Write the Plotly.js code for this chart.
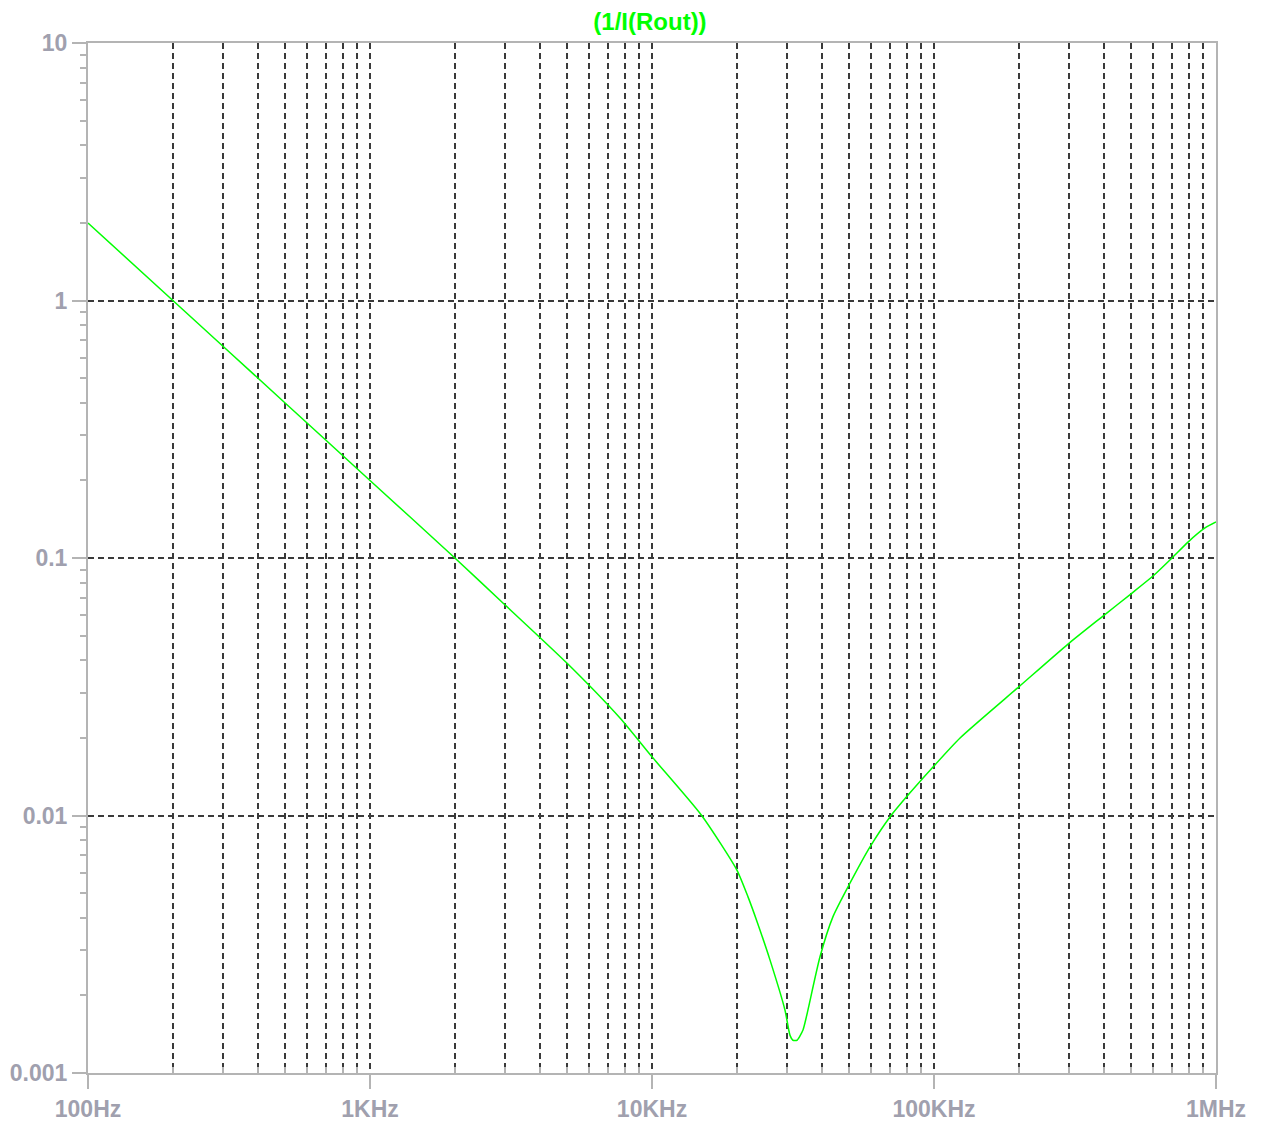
<!DOCTYPE html>
<html>
<head>
<meta charset="utf-8">
<script src="https://cdn.plot.ly/plotly-3.0.1.min.js"></script>
<style>
  html, body { margin: 0; padding: 0; background: #ffffff; }
  #chart { width: 1263px; height: 1123px; }
</style>
</head>
<body>
<div id="chart"></div>
<script>
// Frequency (Hz) and magnitude of 1/I(Rout)
const freq = [100, 200, 500, 1000, 2000, 3000, 5000, 7700, 10000, 15000, 20000, 21900, 23600, 26200, 29600, 30860, 31600, 32680, 34310, 35400, 39400, 43800, 50400, 59300, 69800, 80900, 99200, 123700, 200000, 298700, 397500, 503700, 597800, 698200, 795600, 914200, 1000000];
const mag  = [2.0, 1.0, 0.4, 0.2, 0.1, 0.066, 0.039, 0.0239, 0.0169, 0.0100, 0.00614, 0.00483, 0.00386, 0.00275, 0.00176, 0.00140, 0.00134, 0.00134, 0.00147, 0.00168, 0.00282, 0.00404, 0.00547, 0.00755, 0.00987, 0.0120, 0.01543, 0.0200, 0.0316, 0.0463, 0.0595, 0.0731, 0.0851, 0.100, 0.1153, 0.1308, 0.138];

const xTickVals = [100, 1000, 10000, 100000, 1000000];
const xTickText = ["100Hz", "1KHz", "10KHz", "100KHz", "1MHz"];
const yTickVals = [0.001, 0.01, 0.1, 1, 10];
const yTickText = ["0.001", "0.01", "0.1", "1", "10"];
const minorDigits = [2, 3, 4, 5, 6, 7, 8, 9];

function minorVals(decades) {
  const out = [];
  decades.slice(0, -1).forEach(d => minorDigits.forEach(m => out.push(d * m)));
  return out;
}

const axisColor = "#b4b4b4";
const labelColor = "#a0a0ae";
const gridColor = "#3a3a3a";
const gridDash = "6px,4px";

const trace = {
  x: freq,
  y: mag,
  type: "scatter",
  mode: "lines",
  line: { color: "#00ff00", width: 1.5, shape: "spline", smoothing: 0.6 },
  hoverinfo: "x+y"
};

const tickFont = { family: "Liberation Sans, Arial, sans-serif", size: 23, color: labelColor, weight: "bold" };

const layout = {
  width: 1263,
  height: 1123,
  margin: { l: 88, r: 47, t: 43, b: 50 },
  paper_bgcolor: "#ffffff",
  plot_bgcolor: "#ffffff",
  showlegend: false,
  title: {
    text: "(1/I(Rout))",
    font: { family: "Liberation Sans, Arial, sans-serif", size: 24, color: "#00ff00", weight: "bold" },
    x: 0.4982, xref: "paper", xanchor: "center",
    y: 1 - 22 / 1123, yref: "container", yanchor: "middle"
  },
  xaxis: {
    type: "log",
    range: [2, 6],
    tickmode: "array",
    tickvals: xTickVals,
    ticktext: xTickText,
    tickfont: tickFont,
    ticks: "outside",
    ticklen: 14,
    tickwidth: 2,
    tickcolor: axisColor,
    showline: true,
    linecolor: axisColor,
    linewidth: 2,
    mirror: true,
    showgrid: true,
    gridcolor: gridColor,
    gridwidth: 2,
    griddash: gridDash,
    zeroline: false,
    minor: {
      tickmode: "array",
      tickvals: minorVals(xTickVals),
      ticks: "inside",
      ticklen: 6,
      tickwidth: 2,
      tickcolor: axisColor,
      showgrid: true,
      gridcolor: gridColor,
      gridwidth: 2,
      griddash: gridDash
    }
  },
  yaxis: {
    type: "log",
    range: [-3, 1],
    tickmode: "array",
    tickvals: yTickVals,
    ticktext: yTickText,
    tickfont: tickFont,
    ticks: "outside",
    ticklen: 14,
    tickwidth: 2,
    tickcolor: axisColor,
    showline: true,
    linecolor: axisColor,
    linewidth: 2,
    mirror: true,
    showgrid: true,
    gridcolor: gridColor,
    gridwidth: 2,
    griddash: gridDash,
    zeroline: false,
    minor: {
      tickmode: "array",
      tickvals: minorVals(yTickVals),
      ticks: "outside",
      ticklen: 6,
      tickwidth: 2,
      tickcolor: axisColor,
      showgrid: false
    }
  }
};

Plotly.newPlot("chart", [trace], layout, { displayModeBar: false, staticPlot: true });
</script>
</body>
</html>
